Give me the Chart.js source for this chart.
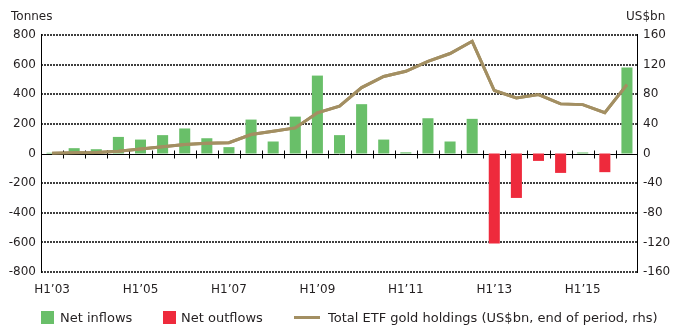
<!DOCTYPE html>
<html>
<head>
<meta charset="utf-8">
<script src="https://cdn.jsdelivr.net/npm/chart.js@4"></script>
<style>
  body { margin: 0; background: #fff; }
</style>
</head>
<body>
<canvas id="myChart" width="674" height="329"></canvas>
<script>
const periods = ["H1’03","H2’03","H1’04","H2’04","H1’05","H2’05","H1’06","H2’06","H1’07","H2’07",
  "H1’08","H2’08","H1’09","H2’09","H1’10","H2’10","H1’11","H2’11","H1’12","H2’12",
  "H1’13","H2’13","H1’14","H2’14","H1’15","H2’15","H1’16"];

// tonnes
const netInflows = [5, 36, 29, 112, 94, 124, 169, 103, 43, 229,
  81, 249, 526, 124, 333, 94, 8, 238, 81, 234,
  null, null, null, null, 7, null, 580];
const netOutflows = [null, null, null, null, null, null, null, null, null, null,
  null, null, null, null, null, null, null, null, null, null,
  -608, -300, -50, -131, null, -126, null];

// US$bn
const holdings = [0.5, 1, 1.5, 3, 6, 9, 12, 14, 14.5, 25.6,
  30, 34.6, 55, 64, 89, 104, 111, 124.5, 135, 151.5,
  85, 75, 79.6, 67, 66, 55, 93];

const shownLabels = ["H1’03","H1’05","H1’07","H1’09","H1’11","H1’13","H1’15"];

const fontName = "DejaVu Sans";
const textColor = "#231f20";

const frame = {
  id: "frame",
  afterDraw(chart) {
    const ctx = chart.ctx;
    const ds = chart.data.datasets;
    const x = chart.scales.x, y = chart.scales.y;
    const left = x.left, right = x.right, top = y.top, bottom = y.bottom;

    // grid, zero line, axes and zero ticks; bars are cut out of the clip so they stay on top
    ctx.save();
    ctx.beginPath();
    ctx.rect(0, 0, chart.width, chart.height);
    [1, 2].forEach(di => {
      chart.getDatasetMeta(di).data.forEach((bar, i) => {
        if (ds[di].data[i] == null) return;
        const p = bar.getProps(["x", "y", "base", "width"], true);
        ctx.rect(p.x - p.width / 2, Math.min(p.y, p.base), p.width, Math.abs(p.base - p.y));
      });
    });
    ctx.clip("evenodd");
    ctx.strokeStyle = "#000";
    ctx.lineWidth = 1.5;
    ctx.setLineDash([2, 1]);
    y.ticks.forEach(t => {
      if (t.value === 0) return;
      const py = Math.round(y.getPixelForValue(t.value));
      ctx.beginPath();
      ctx.moveTo(left, py);
      ctx.lineTo(right, py);
      ctx.stroke();
    });
    ctx.setLineDash([]);
    ctx.lineWidth = 1;
    const y0 = Math.round(y.getPixelForValue(0)) + 0.5;
    ctx.beginPath();
    ctx.moveTo(left, y0);
    ctx.lineTo(right, y0);
    ctx.stroke();
    ctx.beginPath();
    ctx.moveTo(Math.round(left) + 0.5, top - 1);
    ctx.lineTo(Math.round(left) + 0.5, bottom + 1);
    ctx.moveTo(Math.round(right) - 0.5, top - 1);
    ctx.lineTo(Math.round(right) - 0.5, bottom + 1);
    ctx.stroke();
    ctx.beginPath();
    for (let i = 1; i < periods.length; i++) {
      const px = Math.round((x.getPixelForValue(i - 1) + x.getPixelForValue(i)) / 2) + 0.5;
      ctx.moveTo(px, y0 - 4);
      ctx.lineTo(px, y0 + 4);
    }
    ctx.stroke();
    ctx.restore();

    // holdings line back on top of the grid
    chart.getDatasetMeta(0).controller.draw();

    // axis titles and legend
    ctx.save();
    ctx.fillStyle = textColor;
    ctx.font = "12px '" + fontName + "'";
    ctx.fillText("Tonnes", 11, 20);
    ctx.fillText("US$bn", 626, 20);
    ctx.font = "13px '" + fontName + "'";
    ctx.fillStyle = ds[1].backgroundColor;
    ctx.fillRect(41, 311, 13, 13);
    ctx.fillStyle = ds[2].backgroundColor;
    ctx.fillRect(163, 311, 13, 13);
    ctx.strokeStyle = ds[0].borderColor;
    ctx.lineWidth = 3;
    ctx.beginPath();
    ctx.moveTo(294, 317.5);
    ctx.lineTo(320, 317.5);
    ctx.stroke();
    ctx.fillStyle = textColor;
    ctx.fillText(ds[1].label, 60, 322);
    ctx.fillText(ds[2].label, 181, 322);
    ctx.fillText(ds[0].label, 328, 322);
    ctx.restore();
  }
};

new Chart(document.getElementById("myChart"), {
  type: "bar",
  data: {
    labels: periods,
    datasets: [
      {
        type: "line",
        label: "Total ETF gold holdings (US$bn, end of period, rhs)",
        data: holdings,
        yAxisID: "y1",
        borderColor: "#a38f62",
        borderWidth: 3,
        pointRadius: 0,
        order: 0
      },
      {
        label: "Net inflows",
        data: netInflows,
        backgroundColor: "#69bf69",
        grouped: false,
        order: 1
      },
      {
        label: "Net outflows",
        data: netOutflows,
        backgroundColor: "#ee2a3c",
        grouped: false,
        order: 1
      }
    ]
  },
  options: {
    responsive: false,
    animation: false,
    barPercentage: 0.5,
    categoryPercentage: 1,
    layout: { padding: { top: 35 } },
    plugins: { legend: { display: false } },
    scales: {
      x: {
        grid: { display: false, drawTicks: false },
        border: { display: false },
        ticks: {
          autoSkip: false,
          maxRotation: 0,
          padding: 11,
          font: { family: fontName, size: 12 },
          color: textColor,
          callback: function (v, i) {
            const l = periods[i];
            return shownLabels.includes(l) ? l : "";
          }
        },
        afterFit(axis) { axis.height = 57; }
      },
      y: {
        position: "left",
        min: -800,
        max: 800,
        ticks: { stepSize: 200, padding: 5, font: { family: fontName, size: 12 }, color: textColor },
        grid: { display: false, drawTicks: false },
        border: { display: false },
        afterFit(axis) { axis.width = 41; }
      },
      y1: {
        position: "right",
        min: -160,
        max: 160,
        ticks: { stepSize: 40, padding: 5, font: { family: fontName, size: 12 }, color: textColor },
        grid: { display: false, drawTicks: false },
        border: { display: false },
        afterFit(axis) { axis.width = 36; }
      }
    }
  },
  plugins: [frame]
});
</script>
</body>
</html>
